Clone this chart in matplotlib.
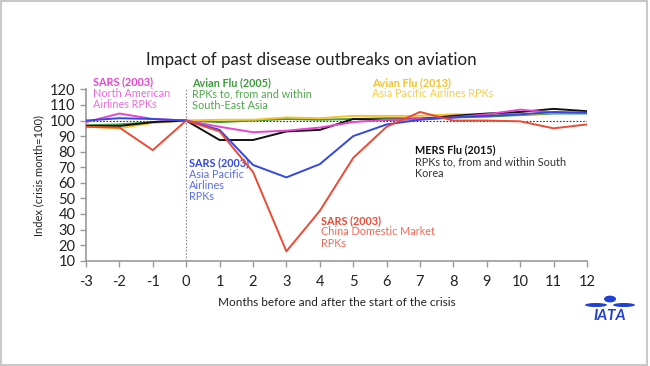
import matplotlib
matplotlib.use("Agg")
import matplotlib.pyplot as plt
from matplotlib.patches import Rectangle, Circle, Ellipse

plt.rcParams['font.family'] = ['Lato', 'DejaVu Sans']
plt.rcParams['axes.unicode_minus'] = False

months = list(range(-3, 13))
china_sars = [96, 95.5, 81, 100, 93, 67, 16, 42, 76, 96, 105.5, 100, 100, 99.5, 95, 97.5]
asia_sars = [100, 101.5, 101, 100, 94, 71.5, 63.5, 72, 90, 97.5, 100.5, 102, 103, 104, 105.5, 105]
na_sars = [99, 104.5, 101, 100, 96, 92.5, 93.5, 95.5, 99, 100.5, 101, 102, 104, 107, 105, 105]
avian_2005 = [97, 97.5, 99, 100, 99, 100, 101, 100.5, 101, 101.5, 101.5, 102, 102.5, 103.5, 104.5, 104.5]
avian_2013 = [96, 95, 98.5, 100, 100.5, 100.5, 102, 101.5, 103, 103, 103, 104, 104, 104, 105, 105]
mers_2015 = [96.5, 96.5, 99, 100, 87.5, 87.5, 93, 94, 101, 100.5, 101, 103, 104.5, 105.5, 107.5, 106]

RED = '#ec4a34'
BLUE = '#3247e6'
MAG = '#e845cf'
GREEN = '#3d9b3a'
YEL = '#f5c22c'
BLK = '#111111'

fig = plt.figure(figsize=(6.5, 3.66), dpi=100)
fig.patch.set_facecolor('white')
fig.patches.append(Rectangle((0.002, 0.003), 0.994, 0.994, transform=fig.transFigure,
                             fill=False, edgecolor='#c8c8c8', linewidth=1.5))

ax = fig.add_axes([86/650, 1-260.7/366, (587-86)/650, (260.7-89.4)/366])
ax.set_xlim(-3, 12)
ax.set_ylim(10, 120)

ax.axhline(100, color='#333333', linestyle=(0, (1.5, 1.5)), linewidth=0.8, zorder=1)
ax.axvline(0, color='#888888', linestyle=(0, (1.5, 1.5)), linewidth=0.8, zorder=1)

lw = 1.4
ax.plot(months, avian_2005, color=GREEN, lw=lw, zorder=3)
ax.plot(months, avian_2013, color=YEL, lw=lw, zorder=3)
ax.plot(months, mers_2015, color=BLK, lw=lw, zorder=4)
ax.plot(months, na_sars, color=MAG, lw=lw, zorder=5)
ax.plot(months, asia_sars, color=BLUE, lw=lw, zorder=5)
ax.plot(months, china_sars, color=RED, lw=lw, zorder=6)

ax.set_xticks(months)
ax.set_yticks(range(10, 121, 10))
for s in ['top', 'right']:
    ax.spines[s].set_visible(False)
for s in ['left', 'bottom']:
    ax.spines[s].set_color('#999999')
    ax.spines[s].set_linewidth(1.2)
ax.tick_params(axis='both', colors='#999999', labelcolor='#222222', labelsize=10.5, length=4, width=1)
ax.tick_params(axis='x', pad=6)
ax.set_xlabel('Months before and after the start of the crisis', fontsize=8.5, color='#222222', labelpad=6)
ax.set_ylabel('Index (crisis month=100)', fontsize=8, color='#222222', labelpad=4)

fig.text(311/650, 1-60/366, 'Impact of past disease outbreaks on aviation', fontsize=12.2,
         color='#222222', ha='center', va='center')

fs = 7.8
ls = 1.05
def label(x, y, title, body, color, body_color=None):
    ax.text(x, y, title, color=color, fontsize=fs, fontweight='bold', va='top', ha='left',
            transform=ax.transData, clip_on=False)
    ax.text(x, y - 7.3, body, color=body_color or color, fontsize=fs, va='top', ha='left',
            linespacing=ls, transform=ax.transData, clip_on=False)

label(-2.78, 128.5, 'SARS (2003)', 'North American\nAirlines RPKs', MAG, '#ee6ad8')
label(0.17, 128.0, 'Avian Flu (2005)', 'RPKs to, from and within\nSouth-East Asia', GREEN, '#4fa84c')
label(5.55, 128.0, 'Avian Flu (2013)', 'Asia Pacific Airlines RPKs', YEL, '#f7cd4e')
label(6.86, 84.5, 'MERS Flu (2015)', 'RPKs to, from and within South\nKorea', BLK, '#333333')
label(0.08, 76.5, 'SARS (2003)', 'Asia Pacific\nAirlines\nRPKs', BLUE, '#5a6cf0')
label(4.04, 39.5, 'SARS (2003)', 'China Domestic Market\nRPKs', RED, '#f06a58')

# IATA logo approximation
fig.text(610/650, 1-316/366, 'IATA', fontsize=11, fontweight='bold', fontstyle='italic',
         color='#1f3fd6', ha='center', va='center')
fig.patches.append(Circle((610/650, 1-299/366), 6/650, transform=fig.transFigure,
                          facecolor='#1f3fd6', edgecolor='none'))
fig.patches.append(Ellipse((596/650, 1-305/366), 22/650, 4/366, transform=fig.transFigure,
                           facecolor='#1f3fd6', edgecolor='none'))
fig.patches.append(Ellipse((624/650, 1-305/366), 22/650, 4/366, transform=fig.transFigure,
                           facecolor='#1f3fd6', edgecolor='none'))

fig.savefig('out.png', dpi=100)
